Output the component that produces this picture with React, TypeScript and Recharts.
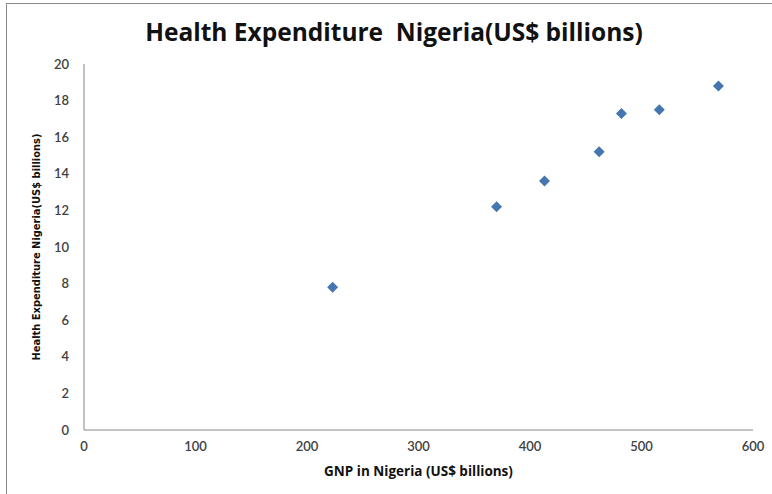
import { ScatterChart, Scatter, XAxis, YAxis, Label } from 'recharts'

const gnp = [223, 370, 413, 462, 482, 516, 569]
const health = [7.8, 12.2, 13.6, 15.2, 17.3, 17.5, 18.8]
const xTicks = [0, 100, 200, 300, 400, 500, 600]
const yTicks = [0, 2, 4, 6, 8, 10, 12, 14, 16, 18, 20]

const data = gnp.map((x, i) => ({ x, y: health[i] }))

const font = 'Lato, "Open Sans", sans-serif'
const wideFont = '"Open Sans", Lato, sans-serif'
const tickStyle = { fill: '#404040', fontSize: 13, fontFamily: font, fontWeight: 600 }

function Diamond(props: any) {
  const { cx, cy } = props
  const r = 5.5
  return (
    <polygon
      points={`${cx},${cy - r} ${cx + r},${cy} ${cx},${cy + r} ${cx - r},${cy}`}
      fill="#4676b0"
    />
  )
}

export default function App() {
  return (
    <div style={{ position: 'absolute', left: 0, top: 0, width: 772, height: 494, background: '#fff', overflow: 'hidden', fontFamily: font }}>
      <div style={{ position: 'absolute', left: 6, top: 3, width: 800, height: 520, border: '1px solid #8a8a8a' }} />
      <div style={{ position: 'absolute', left: 0, top: 17, width: 788, textAlign: 'center', fontSize: 24.5, lineHeight: '30px', fontWeight: 700, color: '#111', fontFamily: wideFont }}>
        Health Expenditure&nbsp; Nigeria(US$ billions)
      </div>
      <div style={{ position: 'absolute', left: 0, top: 0 }}>
        <ScatterChart width={772} height={494} margin={{ top: 64, right: 19, bottom: 20, left: 0 }}>
          <XAxis
            type="number"
            dataKey="x"
            domain={[0, 600]}
            ticks={xTicks}
            height={44}
            tickSize={0}
            tickMargin={12}
            tick={tickStyle}
            axisLine={{ stroke: '#868686' }}
            tickLine={false}
          >
            <Label
              value="GNP in Nigeria (US$ billions)"
              position="insideBottom"
              offset={-2}
              style={{ fill: '#111', fontSize: 13.5, fontWeight: 700, fontFamily: wideFont }}
            />
          </XAxis>
          <YAxis
            type="number"
            dataKey="y"
            domain={[0, 20]}
            ticks={yTicks}
            width={84}
            tickSize={0}
            tickMargin={15}
            tick={tickStyle}
            axisLine={{ stroke: '#868686' }}
            tickLine={false}
          >
            <Label
              value="Health Expenditure  Nigeria(US$ billions)"
              angle={-90}
              position="insideLeft"
              offset={36}
              style={{ textAnchor: 'middle', fill: '#111', fontSize: 11, fontWeight: 700, fontFamily: '"Liberation Sans Narrow", "DejaVu Sans Condensed", sans-serif', whiteSpace: 'pre' }}
            />
          </YAxis>
          <Scatter data={data} shape={Diamond} isAnimationActive={false} />
        </ScatterChart>
      </div>
    </div>
  )
}
